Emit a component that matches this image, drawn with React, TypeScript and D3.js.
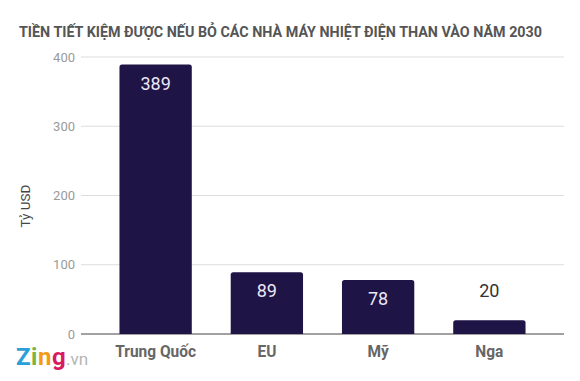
import React from "react";
import * as d3 from "d3";

const categories = ["Trung Quốc", "EU", "Mỹ", "Nga"];
const values = [389, 89, 78, 20];
const yTicks = [0, 100, 200, 300, 400];
const title = "TIỀN TIẾT KIỆM ĐƯỢC NẾU BỎ CÁC NHÀ MÁY NHIỆT ĐIỆN THAN VÀO NĂM 2030";
const yLabel = "Tỷ USD";

const W = 580;
const H = 381;

function roundedTopRect(x: number, y: number, w: number, h: number, r: number) {
  const rr = Math.min(r, h, w / 2);
  return `M${x},${y + h}V${y + rr}Q${x},${y} ${x + rr},${y}H${x + w - rr}Q${x + w},${y} ${x + w},${y + rr}V${y + h}Z`;
}

export default function App() {
  const y = d3.scaleLinear().domain([0, 400]).range([334, 57]);
  const x = d3
    .scaleBand<string>()
    .domain(categories)
    .range([100, 545])
    .paddingInner(0.35)
    .paddingOuter(0.175);
  const font = "Roboto, 'Noto Sans', sans-serif";
  return (
    <svg width={W} height={H} style={{ position: "absolute", left: 0, top: 0, background: "#fff" }}>
      <rect width={W} height={H} fill="#fff" />
      <text
        x={19}
        y={37}
        fontFamily={font}
        fontWeight={700}
        fontSize={14}
        fill="#555"
        textLength={523}
        lengthAdjust="spacingAndGlyphs"
      >
        {title}
      </text>
      {yTicks.map((t) => (
        <g key={t}>
          <line
            x1={81}
            x2={564}
            y1={y(t)}
            y2={y(t)}
            stroke={t === 0 ? "#444" : "#ddd"}
            strokeWidth={1}
          />
          <text
            x={75}
            y={y(t) + 4.5}
            textAnchor="end"
            fontFamily={font}
            fontSize={13}
            fill="#9a9a9a"
          >
            {t}
          </text>
        </g>
      ))}
      <text
        transform={`translate(30,206) rotate(-90)`}
        textAnchor="middle"
        fontFamily={font}
        fontSize={13.5}
        fill="#444"
      >
        {yLabel}
      </text>
      {categories.map((c, i) => {
        const v = values[i];
        const bx = x(c)!;
        const bw = x.bandwidth();
        const top = y(v);
        const inside = y(0) - top > 40;
        const cx = bx + bw / 2;
        return (
          <g key={c}>
            <path d={roundedTopRect(bx, top, bw, y(0) - top, 2.5)} fill="#1f1446" />
            <text
              x={cx}
              y={inside ? top + 25 : top - 23}
              textAnchor="middle"
              fontFamily={font}
              fontSize={18}
              fill={inside ? "#ebe7f7" : "#333"}
            >
              {v}
            </text>
            <g transform={`translate(${cx},357) scale(0.91,1)`}>
              <text
                x={0}
                y={0}
                textAnchor="middle"
                fontFamily={font}
                fontWeight={700}
                fontSize={17}
                fill="#666"
              >
                {c}
              </text>
            </g>
          </g>
        );
      })}
      <g fontFamily={font} fontWeight={700} fontSize={24}>
        <text x={16} y={365} letterSpacing={0.5}>
          <tspan fill="#2a9fd8">Z</tspan>
          <tspan fill="#7cb342">i</tspan>
          <tspan fill="#f39c12">n</tspan>
          <tspan fill="#d81b60">g</tspan>
          <tspan fill="#b5b5b5" fontWeight={400} fontSize={17} letterSpacing={0}>.vn</tspan>
        </text>
      </g>
    </svg>
  );
}
